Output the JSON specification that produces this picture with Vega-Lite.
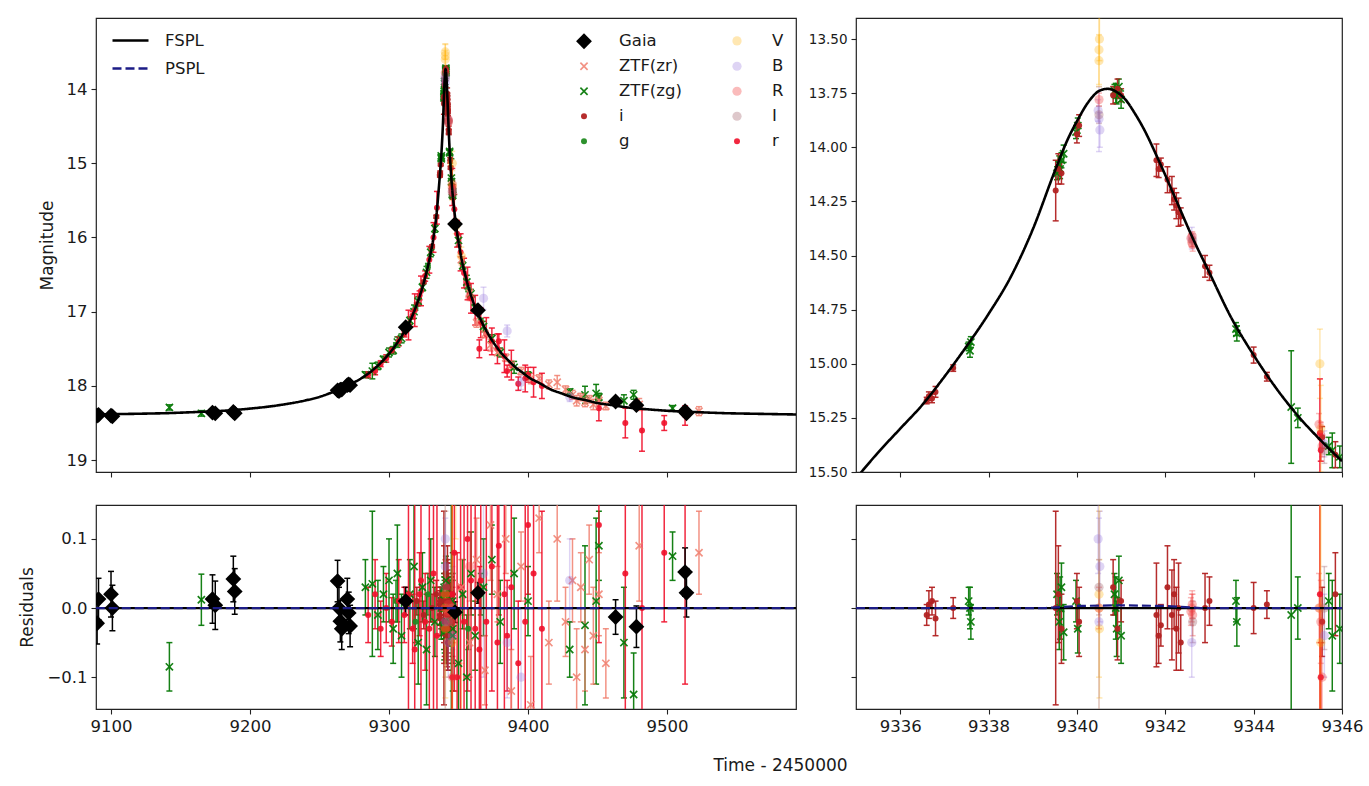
{
"$schema": "https://vega.github.io/schema/vega-lite/v6.json",
"background": "white",
"padding": {"left": 18, "top": 17, "right": 0, "bottom": 0},
"bounds": "flush",
"columns": 2,
"spacing": {"row": 33, "column": 60},
"config": {
  "font": "DejaVu Sans",
  "view": {"stroke": "#222222", "strokeWidth": 1.2},
  "axis": {"domain": false, "grid": false, "tickColor": "#222222", "tickSize": 5, "tickWidth": 1.1, "labelColor": "#1a1a1a", "labelFontSize": 16.5, "labelFont": "DejaVu Sans", "titleFont": "DejaVu Sans", "titleFontSize": 17, "titleFontWeight": "normal", "titleColor": "#1a1a1a", "labelPadding": 4, "labelFlush": false, "labelOverlap": false},
  "legend": {"labelFont": "DejaVu Sans", "labelFontSize": 16.5, "labelColor": "#1a1a1a", "padding": 0}
},
"resolve": {"legend": {"color": "independent", "shape": "independent", "opacity": "independent", "size": "independent", "stroke": "independent", "strokeDash": "independent"}},
"datasets": {
"obs": [
{"t":9142,"b":"ZTF(zg)","m":18.29,"e":0.035,"r":-0.085},
{"t":9165,"b":"ZTF(zg)","m":18.37,"e":0.037,"r":0.012},
{"t":9283,"b":"ZTF(zg)","m":17.85,"e":0.04,"r":0.03},
{"t":9288,"b":"ZTF(zg)","m":17.80,"e":0.105,"r":0.035},
{"t":9292,"b":"ZTF(zg)","m":17.73,"e":0.05,"r":-0.01},
{"t":9296,"b":"ZTF(zg)","m":17.64,"e":0.04,"r":0.02},
{"t":9300,"b":"ZTF(zg)","m":17.55,"e":0.06,"r":0.04},
{"t":9303,"b":"ZTF(zg)","m":17.52,"e":0.05,"r":-0.03},
{"t":9306,"b":"ZTF(zg)","m":17.41,"e":0.07,"r":0.05},
{"t":9309,"b":"ZTF(zg)","m":17.36,"e":0.06,"r":-0.04},
{"t":9315,"b":"ZTF(zg)","m":17.12,"e":0.05,"r":0.02},
{"t":9318,"b":"ZTF(zg)","m":17.0,"e":0.09,"r":0.06},
{"t":9321,"b":"ZTF(zg)","m":16.86,"e":0.06,"r":-0.05},
{"t":9324,"b":"ZTF(zg)","m":16.67,"e":0.05,"r":0.03},
{"t":9327,"b":"ZTF(zg)","m":16.47,"e":0.08,"r":-0.06},
{"t":9330,"b":"ZTF(zg)","m":16.2,"e":0.06,"r":0.04},
{"t":9333,"b":"ZTF(zg)","m":15.88,"e":0.05,"r":-0.02},
{"t":9337.55,"b":"ZTF(zg)","m":14.92,"e":0.02,"r":0.01},
{"t":9337.6,"b":"ZTF(zg)","m":14.9,"e":0.025,"r":-0.02},
{"t":9337.58,"b":"ZTF(zg)","m":14.94,"e":0.03,"r":0.0},
{"t":9339.55,"b":"ZTF(zg)","m":14.12,"e":0.03,"r":0.02},
{"t":9339.6,"b":"ZTF(zg)","m":14.08,"e":0.04,"r":-0.02},
{"t":9339.65,"b":"ZTF(zg)","m":14.06,"e":0.035,"r":0.03},
{"t":9339.7,"b":"ZTF(zg)","m":14.03,"e":0.04,"r":-0.035},
{"t":9339.62,"b":"ZTF(zg)","m":14.1,"e":0.045,"r":0.0},
{"t":9339.98,"b":"ZTF(zg)","m":13.93,"e":0.03,"r":0.01},
{"t":9340.02,"b":"ZTF(zg)","m":13.9,"e":0.035,"r":-0.03},
{"t":9340.85,"b":"ZTF(zg)","m":13.74,"e":0.03,"r":0.02},
{"t":9340.9,"b":"ZTF(zg)","m":13.76,"e":0.04,"r":-0.03},
{"t":9340.95,"b":"ZTF(zg)","m":13.72,"e":0.035,"r":0.04},
{"t":9341.0,"b":"ZTF(zg)","m":13.78,"e":0.04,"r":-0.04},
{"t":9340.88,"b":"ZTF(zg)","m":13.75,"e":0.045,"r":0.0},
{"t":9343.6,"b":"ZTF(zg)","m":14.84,"e":0.03,"r":0.01},
{"t":9343.62,"b":"ZTF(zg)","m":14.86,"e":0.035,"r":-0.02},
{"t":9344.85,"b":"ZTF(zg)","m":15.2,"e":0.26,"r":-0.01},
{"t":9345.0,"b":"ZTF(zg)","m":15.25,"e":0.045,"r":0.0},
{"t":9345.7,"b":"ZTF(zg)","m":15.38,"e":0.04,"r":0.01},
{"t":9345.78,"b":"ZTF(zg)","m":15.4,"e":0.08,"r":-0.04},
{"t":9345.95,"b":"ZTF(zg)","m":15.43,"e":0.05,"r":-0.03},
{"t":9350,"b":"ZTF(zg)","m":16.04,"e":0.08,"r":-0.08},
{"t":9353,"b":"ZTF(zg)","m":16.38,"e":0.05,"r":0.02},
{"t":9356,"b":"ZTF(zg)","m":16.6,"e":0.09,"r":-0.1},
{"t":9359,"b":"ZTF(zg)","m":16.76,"e":0.06,"r":0.05},
{"t":9362,"b":"ZTF(zg)","m":16.95,"e":0.05,"r":-0.04},
{"t":9368,"b":"ZTF(zg)","m":17.2,"e":0.07,"r":0.03},
{"t":9374,"b":"ZTF(zg)","m":17.36,"e":0.05,"r":0.07},
{"t":9380,"b":"ZTF(zg)","m":17.55,"e":0.06,"r":-0.02},
{"t":9390,"b":"ZTF(zg)","m":17.75,"e":0.08,"r":0.05},
{"t":9400,"b":"ZTF(zg)","m":17.86,"e":0.05,"r":0.01},
{"t":9430,"b":"ZTF(zg)","m":18.08,"e":0.04,"r":-0.06},
{"t":9441,"b":"ZTF(zg)","m":18.12,"e":0.115,"r":-0.025},
{"t":9449,"b":"ZTF(zg)","m":18.1,"e":0.12,"r":0.01},
{"t":9451,"b":"ZTF(zg)","m":18.15,"e":0.05,"r":0.09},
{"t":9469,"b":"ZTF(zg)","m":18.2,"e":0.08,"r":-0.05},
{"t":9476,"b":"ZTF(zg)","m":18.12,"e":0.06,"r":-0.125},
{"t":9504,"b":"ZTF(zg)","m":18.3,"e":0.035,"r":0.075},
{"t":9320,"b":"i","m":16.9,"e":0.02,"r":0.01},
{"t":9325,"b":"i","m":16.6,"e":0.02,"r":-0.01},
{"t":9331,"b":"i","m":16.12,"e":0.02,"r":0.0},
{"t":9334,"b":"i","m":15.72,"e":0.02,"r":0.02},
{"t":9336.6,"b":"i","m":15.17,"e":0.015,"r":-0.01},
{"t":9336.65,"b":"i","m":15.15,"e":0.02,"r":0.005},
{"t":9336.72,"b":"i","m":15.16,"e":0.02,"r":0.01},
{"t":9336.8,"b":"i","m":15.13,"e":0.025,"r":-0.015},
{"t":9337.2,"b":"i","m":15.02,"e":0.015,"r":0.0},
{"t":9339.52,"b":"i","m":14.2,"e":0.14,"r":0.0},
{"t":9339.58,"b":"i","m":14.1,"e":0.07,"r":0.02},
{"t":9339.65,"b":"i","m":14.12,"e":0.05,"r":-0.03},
{"t":9340.0,"b":"i","m":13.94,"e":0.04,"r":0.01},
{"t":9340.05,"b":"i","m":13.9,"e":0.05,"r":-0.02},
{"t":9340.82,"b":"i","m":13.76,"e":0.04,"r":0.03},
{"t":9340.92,"b":"i","m":13.73,"e":0.045,"r":-0.03},
{"t":9341.0,"b":"i","m":13.76,"e":0.03,"r":0.01},
{"t":9341.8,"b":"i","m":14.06,"e":0.075,"r":-0.01},
{"t":9341.85,"b":"i","m":14.1,"e":0.04,"r":-0.04},
{"t":9341.9,"b":"i","m":14.08,"e":0.03,"r":-0.025},
{"t":9342.05,"b":"i","m":14.15,"e":0.06,"r":0.03},
{"t":9342.15,"b":"i","m":14.2,"e":0.065,"r":-0.01},
{"t":9342.2,"b":"i","m":14.24,"e":0.05,"r":0.02},
{"t":9342.25,"b":"i","m":14.27,"e":0.06,"r":-0.03},
{"t":9342.3,"b":"i","m":14.3,"e":0.065,"r":0.0},
{"t":9342.35,"b":"i","m":14.32,"e":0.04,"r":-0.05},
{"t":9342.9,"b":"i","m":14.55,"e":0.05,"r":0.0},
{"t":9343.0,"b":"i","m":14.58,"e":0.035,"r":0.01},
{"t":9344.0,"b":"i","m":14.96,"e":0.037,"r":0.0},
{"t":9344.3,"b":"i","m":15.06,"e":0.02,"r":0.005},
{"t":9345.55,"b":"i","m":15.34,"e":0.05,"r":-0.02},
{"t":9345.85,"b":"i","m":15.42,"e":0.06,"r":0.02},
{"t":9305,"b":"g","m":17.45,"e":0.03,"r":0.01},
{"t":9319,"b":"g","m":16.95,"e":0.03,"r":-0.02},
{"t":9328,"b":"g","m":16.38,"e":0.03,"r":0.02},
{"t":9357,"b":"g","m":16.7,"e":0.03,"r":-0.03},
{"t":9366,"b":"g","m":17.12,"e":0.03,"r":0.02},
{"t":9285,"b":"r","m":17.85,"e":0.04,"r":-0.01},
{"t":9290,"b":"r","m":17.8,"e":0.05,"r":0.02},
{"t":9294,"b":"r","m":17.7,"e":0.04,"r":-0.03},
{"t":9298,"b":"r","m":17.63,"e":0.05,"r":0.0},
{"t":9302,"b":"r","m":17.52,"e":0.035,"r":-0.02},
{"t":9307,"b":"r","m":17.4,"e":0.06,"r":0.01},
{"t":9311,"b":"r","m":17.3,"e":0.04,"r":-0.01},
{"t":9314,"b":"r","m":17.18,"e":0.2,"r":0.02},
{"t":9317,"b":"r","m":17.05,"e":0.05,"r":-0.03},
{"t":9318.5,"b":"r","m":16.98,"e":0.22,"r":-0.06},
{"t":9322,"b":"r","m":16.78,"e":0.06,"r":0.02},
{"t":9323,"b":"r","m":16.72,"e":0.2,"r":0.04},
{"t":9326,"b":"r","m":16.52,"e":0.07,"r":-0.02},
{"t":9329,"b":"r","m":16.3,"e":0.18,"r":-0.03},
{"t":9332,"b":"r","m":16.0,"e":0.2,"r":0.05},
{"t":9334.5,"b":"r","m":15.6,"e":0.22,"r":-0.04},
{"t":9347,"b":"r","m":15.62,"e":0.2,"r":0.08},
{"t":9349,"b":"r","m":15.95,"e":0.18,"r":-0.1},
{"t":9351.5,"b":"r","m":16.2,"e":0.25,"r":0.03},
{"t":9354,"b":"r","m":16.48,"e":0.2,"r":-0.02},
{"t":9356.5,"b":"r","m":16.62,"e":0.22,"r":0.1},
{"t":9359,"b":"r","m":16.82,"e":0.2,"r":0.04},
{"t":9362,"b":"r","m":16.98,"e":0.2,"r":-0.03},
{"t":9365,"b":"r","m":17.5,"e":0.12,"r":-0.06},
{"t":9366,"b":"r","m":17.15,"e":0.2,"r":0.04},
{"t":9370,"b":"r","m":17.3,"e":0.22,"r":-0.02},
{"t":9374,"b":"r","m":17.4,"e":0.18,"r":0.06},
{"t":9378,"b":"r","m":17.5,"e":0.2,"r":-0.05},
{"t":9379,"b":"r","m":17.4,"e":0.1,"r":0.09},
{"t":9383,"b":"r","m":17.6,"e":0.22,"r":0.02},
{"t":9385,"b":"r","m":17.8,"e":0.08,"r":-0.04},
{"t":9388,"b":"r","m":17.72,"e":0.2,"r":0.03},
{"t":9393,"b":"r","m":17.97,"e":0.09,"r":-0.08},
{"t":9398,"b":"r","m":17.9,"e":0.18,"r":-0.02},
{"t":9400,"b":"r","m":17.85,"e":0.1,"r":0.12},
{"t":9404,"b":"r","m":17.95,"e":0.2,"r":0.05},
{"t":9410,"b":"r","m":18.0,"e":0.17,"r":-0.03},
{"t":9451,"b":"r","m":18.3,"e":0.17,"r":0.12},
{"t":9470,"b":"r","m":18.5,"e":0.2,"r":0.05},
{"t":9482,"b":"r","m":18.6,"e":0.28,"r":0.0},
{"t":9498,"b":"r","m":18.5,"e":0.1,"r":0.08},
{"t":9513,"b":"r","m":18.4,"e":0.13,"r":0.02},
{"t":9345.5,"b":"r","m":15.32,"e":0.25,"r":0.02},
{"t":9345.52,"b":"r","m":15.4,"e":0.05,"r":-0.1},
{"t":9352,"b":"ZTF(zr)","m":16.3,"e":0.04,"r":0.03},
{"t":9358,"b":"ZTF(zr)","m":16.75,"e":0.05,"r":-0.05},
{"t":9363,"b":"ZTF(zr)","m":17.15,"e":0.06,"r":0.07},
{"t":9369,"b":"ZTF(zr)","m":17.3,"e":0.05,"r":-0.09},
{"t":9373,"b":"ZTF(zr)","m":17.45,"e":0.08,"r":0.12},
{"t":9378,"b":"ZTF(zr)","m":17.55,"e":0.04,"r":0.02},
{"t":9384,"b":"ZTF(zr)","m":17.62,"e":0.05,"r":0.1},
{"t":9388,"b":"ZTF(zr)","m":17.72,"e":0.06,"r":-0.12},
{"t":9395,"b":"ZTF(zr)","m":17.8,"e":0.05,"r":0.06},
{"t":9402,"b":"ZTF(zr)","m":17.9,"e":0.07,"r":-0.14},
{"t":9408,"b":"ZTF(zr)","m":17.9,"e":0.05,"r":0.13},
{"t":9415,"b":"ZTF(zr)","m":17.98,"e":0.06,"r":-0.05},
{"t":9421,"b":"ZTF(zr)","m":17.95,"e":0.09,"r":0.1},
{"t":9427,"b":"ZTF(zr)","m":18.05,"e":0.05,"r":-0.02},
{"t":9432,"b":"ZTF(zr)","m":18.12,"e":0.06,"r":0.04},
{"t":9435,"b":"ZTF(zr)","m":18.2,"e":0.07,"r":-0.1},
{"t":9438,"b":"ZTF(zr)","m":18.15,"e":0.05,"r":0.03},
{"t":9441,"b":"ZTF(zr)","m":18.22,"e":0.06,"r":-0.06},
{"t":9444,"b":"ZTF(zr)","m":18.18,"e":0.05,"r":0.07},
{"t":9447,"b":"ZTF(zr)","m":18.25,"e":0.07,"r":-0.04},
{"t":9451,"b":"ZTF(zr)","m":18.2,"e":0.06,"r":0.02},
{"t":9456,"b":"ZTF(zr)","m":18.27,"e":0.05,"r":-0.08},
{"t":9480,"b":"ZTF(zr)","m":18.25,"e":0.08,"r":0.09},
{"t":9523,"b":"ZTF(zr)","m":18.34,"e":0.06,"r":0.08},
{"t":9340.5,"b":"V","m":13.55,"e":0.16,"r":0.0},
{"t":9340.5,"b":"V","m":13.6,"e":0.12,"r":0.02},
{"t":9340.51,"b":"V","m":13.5,"e":0.1,"r":-0.03},
{"t":9345.5,"b":"V","m":15.0,"e":0.16,"r":0.0},
{"t":9345.52,"b":"V","m":15.3,"e":0.2,"r":-0.05},
{"t":9348,"b":"V","m":15.85,"e":0.1,"r":0.2},
{"t":9352,"b":"V","m":16.25,"e":0.12,"r":-0.2},
{"t":9340.48,"b":"B","m":13.83,"e":0.05,"r":0.1},
{"t":9340.52,"b":"B","m":13.92,"e":0.08,"r":0.06},
{"t":9340.5,"b":"B","m":13.87,"e":0.15,"r":-0.02},
{"t":9342.6,"b":"B","m":14.42,"e":0.05,"r":-0.05},
{"t":9345.6,"b":"B","m":15.37,"e":0.06,"r":-0.04},
{"t":9368,"b":"B","m":16.82,"e":0.15,"r":0.05},
{"t":9385,"b":"B","m":17.26,"e":0.08,"r":-0.05},
{"t":9395,"b":"B","m":17.95,"e":0.1,"r":-0.1},
{"t":9430,"b":"B","m":18.15,"e":0.06,"r":0.04},
{"t":9340.5,"b":"R","m":13.78,"e":0.03,"r":0.0},
{"t":9342.58,"b":"R","m":14.42,"e":0.02,"r":-0.005},
{"t":9342.6,"b":"R","m":14.44,"e":0.02,"r":0.0},
{"t":9342.62,"b":"R","m":14.45,"e":0.03,"r":-0.01},
{"t":9342.61,"b":"R","m":14.41,"e":0.02,"r":0.005},
{"t":9345.48,"b":"R","m":15.28,"e":0.05,"r":0.0},
{"t":9345.52,"b":"R","m":15.33,"e":0.06,"r":-0.02},
{"t":9345.55,"b":"R","m":15.38,"e":0.05,"r":-0.1},
{"t":9358,"b":"R","m":16.8,"e":0.05,"r":0.06},
{"t":9340.5,"b":"I","m":13.85,"e":0.04,"r":0.03},
{"t":9342.62,"b":"I","m":14.43,"e":0.03,"r":-0.02},
{"t":9345.6,"b":"I","m":15.4,"e":0.06,"r":0.0},
{"t":9090,"b":"Gaia","m":18.40,"e":0.03,"r":-0.022},
{"t":9091,"b":"Gaia","m":18.39,"e":0.03,"r":0.013},
{"t":9100,"b":"Gaia","m":18.40,"e":0.033,"r":0.02},
{"t":9101,"b":"Gaia","m":18.41,"e":0.033,"r":0.0},
{"t":9173,"b":"Gaia","m":18.36,"e":0.035,"r":0.013},
{"t":9175,"b":"Gaia","m":18.37,"e":0.035,"r":0.004},
{"t":9188,"b":"Gaia","m":18.35,"e":0.033,"r":0.042},
{"t":9189,"b":"Gaia","m":18.37,"e":0.033,"r":0.024},
{"t":9263,"b":"Gaia","m":18.06,"e":0.03,"r":0.039},
{"t":9264,"b":"Gaia","m":18.07,"e":0.03,"r":0.0},
{"t":9265,"b":"Gaia","m":18.05,"e":0.03,"r":-0.019},
{"t":9266,"b":"Gaia","m":18.05,"e":0.03,"r":-0.03},
{"t":9270,"b":"Gaia","m":17.99,"e":0.03,"r":0.013},
{"t":9271,"b":"Gaia","m":17.98,"e":0.03,"r":-0.007},
{"t":9272,"b":"Gaia","m":17.99,"e":0.03,"r":-0.026},
{"t":9312,"b":"Gaia","m":17.21,"e":0.02,"r":0.01},
{"t":9347.5,"b":"Gaia","m":15.82,"e":0.015,"r":-0.006},
{"t":9364,"b":"Gaia","m":16.98,"e":0.015,"r":0.022},
{"t":9463,"b":"Gaia","m":18.21,"e":0.025,"r":-0.013},
{"t":9478,"b":"Gaia","m":18.26,"e":0.03,"r":-0.027},
{"t":9513,"b":"Gaia","m":18.34,"e":0.035,"r":0.052},
{"t":9514,"b":"Gaia","m":18.37,"e":0.035,"r":0.022}
],
"fl": [
{"t":9089,"m":18.384,"model":"FSPL"},{"t":9120,"m":18.375,"model":"FSPL"},{"t":9140,"m":18.367,"model":"FSPL"},{"t":9160,"m":18.353,"model":"FSPL"},{"t":9180,"m":18.336,"model":"FSPL"},{"t":9200,"m":18.306,"model":"FSPL"},{"t":9220,"m":18.262,"model":"FSPL"},{"t":9240,"m":18.195,"model":"FSPL"},{"t":9250,"m":18.148,"model":"FSPL"},{"t":9258,"m":18.095,"model":"FSPL"},{"t":9265,"m":18.047,"model":"FSPL"},{"t":9272,"m":17.98,"model":"FSPL"},{"t":9280,"m":17.898,"model":"FSPL"},{"t":9290,"m":17.76,"model":"FSPL"},{"t":9300,"m":17.567,"model":"FSPL"},{"t":9310,"m":17.30,"model":"FSPL"},{"t":9315,"m":17.13,"model":"FSPL"},{"t":9320,"m":16.90,"model":"FSPL"},{"t":9325,"m":16.61,"model":"FSPL"},{"t":9330,"m":16.21,"model":"FSPL"},{"t":9332,"m":16.0,"model":"FSPL"},{"t":9334,"m":15.72,"model":"FSPL"},{"t":9336,"m":15.30,"model":"FSPL"},{"t":9337,"m":15.06,"model":"FSPL"},{"t":9338,"m":14.77,"model":"FSPL"},{"t":9339,"m":14.38,"model":"FSPL"},{"t":9339.5,"m":14.11,"model":"FSPL"},{"t":9340,"m":13.88,"model":"FSPL"},{"t":9340.4,"m":13.76,"model":"FSPL"},{"t":9340.7,"m":13.73,"model":"FSPL"},{"t":9341.1,"m":13.78,"model":"FSPL"},{"t":9341.5,"m":13.91,"model":"FSPL"},{"t":9342,"m":14.12,"model":"FSPL"},{"t":9343,"m":14.58,"model":"FSPL"},{"t":9344,"m":14.96,"model":"FSPL"},{"t":9345,"m":15.24,"model":"FSPL"},{"t":9347,"m":15.64,"model":"FSPL"},{"t":9349,"m":15.94,"model":"FSPL"},{"t":9351,"m":16.17,"model":"FSPL"},{"t":9356,"m":16.59,"model":"FSPL"},{"t":9361,"m":16.89,"model":"FSPL"},{"t":9366,"m":17.11,"model":"FSPL"},{"t":9371,"m":17.29,"model":"FSPL"},{"t":9381,"m":17.56,"model":"FSPL"},{"t":9386,"m":17.66,"model":"FSPL"},{"t":9391,"m":17.75,"model":"FSPL"},{"t":9396,"m":17.82,"model":"FSPL"},{"t":9401,"m":17.89,"model":"FSPL"},{"t":9408,"m":17.96,"model":"FSPL"},{"t":9416,"m":18.045,"model":"FSPL"},{"t":9424,"m":18.10,"model":"FSPL"},{"t":9431,"m":18.147,"model":"FSPL"},{"t":9441,"m":18.19,"model":"FSPL"},{"t":9451,"m":18.234,"model":"FSPL"},{"t":9461,"m":18.26,"model":"FSPL"},{"t":9471,"m":18.289,"model":"FSPL"},{"t":9486,"m":18.315,"model":"FSPL"},{"t":9501,"m":18.336,"model":"FSPL"},{"t":9521,"m":18.353,"model":"FSPL"},{"t":9541,"m":18.367,"model":"FSPL"},{"t":9565,"m":18.376,"model":"FSPL"},{"t":9593,"m":18.385,"model":"FSPL"}
],
"fr": [
{"t":9335.0,"m":15.53,"model":"FSPL"},{"t":9335.5,"m":15.41,"model":"FSPL"},{"t":9336.0,"m":15.30,"model":"FSPL"},{"t":9336.5,"m":15.19,"model":"FSPL"},{"t":9337.0,"m":15.06,"model":"FSPL"},{"t":9337.5,"m":14.92,"model":"FSPL"},{"t":9338.0,"m":14.77,"model":"FSPL"},{"t":9338.5,"m":14.60,"model":"FSPL"},{"t":9339.0,"m":14.38,"model":"FSPL"},{"t":9339.5,"m":14.11,"model":"FSPL"},{"t":9339.8,"m":13.96,"model":"FSPL"},{"t":9340.0,"m":13.88,"model":"FSPL"},{"t":9340.3,"m":13.78,"model":"FSPL"},{"t":9340.5,"m":13.74,"model":"FSPL"},{"t":9340.7,"m":13.73,"model":"FSPL"},{"t":9340.9,"m":13.745,"model":"FSPL"},{"t":9341.1,"m":13.78,"model":"FSPL"},{"t":9341.3,"m":13.84,"model":"FSPL"},{"t":9341.5,"m":13.91,"model":"FSPL"},{"t":9341.85,"m":14.06,"model":"FSPL"},{"t":9342.3,"m":14.27,"model":"FSPL"},{"t":9342.6,"m":14.41,"model":"FSPL"},{"t":9343.0,"m":14.58,"model":"FSPL"},{"t":9343.5,"m":14.79,"model":"FSPL"},{"t":9344.0,"m":14.96,"model":"FSPL"},{"t":9344.5,"m":15.11,"model":"FSPL"},{"t":9345.0,"m":15.24,"model":"FSPL"},{"t":9345.5,"m":15.35,"model":"FSPL"},{"t":9346.0,"m":15.45,"model":"FSPL"}
],
"rl": [
{"t":9089,"r":0,"model":"FSPL"},{"t":9593,"r":0,"model":"FSPL"},{"t":9089,"r":0,"model":"PSPL"},{"t":9593,"r":0,"model":"PSPL"}
],
"rr": [
{"t":9335,"r":0,"model":"FSPL"},{"t":9346,"r":0,"model":"FSPL"},
{"t":9335,"r":0,"model":"PSPL"},{"t":9339.3,"r":0,"model":"PSPL"},{"t":9340,"r":0.003,"model":"PSPL"},{"t":9341,"r":0.004,"model":"PSPL"},{"t":9342,"r":0.003,"model":"PSPL"},{"t":9342.8,"r":0,"model":"PSPL"},{"t":9346,"r":0,"model":"PSPL"}
]
},
"concat": [
{
 "width": 700, "height": 454,
 "resolve": {"legend": {"color": "independent", "opacity": "independent", "shape": "independent", "size": "independent"}},
 "encoding": {
  "x": {"field": "t", "type": "quantitative", "scale": {"domain": [9089.2, 9592.8], "nice": false, "zero": false}, "axis": {"values": [9100, 9200, 9300, 9400, 9500], "labels": false, "title": null}},
  "y": {"field": "m", "type": "quantitative", "scale": {"domain": [13.043, 19.16], "reverse": true, "nice": false, "zero": false}, "axis": {"values": [14, 15, 16, 17, 18, 19], "format": "d", "title": "Magnitude", "titlePadding": 10}}
 },
 "layer": [
  {"data": {"name": "obs"}, "mark": {"type": "errorbar", "ticks": {"size": 6}, "thickness": 1.5, "clip": true},
   "encoding": {"yError": {"field": "e"},
    "color": {"field": "b", "type": "nominal", "scale": {"domain": ["Gaia","ZTF(zr)","ZTF(zg)","i","g","V","B","R","I","r"], "range": ["#000000","#f07f6f","#0a7a0a","#b22222","#228b22","#ffb000","#9370db","#f03c3c","#a0606a","#f0102a"]}, "legend": null},
    "opacity": {"field": "b", "type": "nominal", "scale": {"type": "ordinal", "domain": ["Gaia","ZTF(zr)","ZTF(zg)","i","g","V","B","R","I","r"], "range": [1,0.85,0.95,0.95,0.95,0.3,0.3,0.35,0.35,0.9]}, "legend": null}}},
  {"data": {"name": "obs"}, "mark": {"type": "point", "filled": true, "clip": true},
   "encoding": {
    "color": {"field": "b", "type": "nominal", "scale": {"domain": ["Gaia","ZTF(zr)","ZTF(zg)","i","g","V","B","R","I","r"], "range": ["#000000","#f07f6f","#0a7a0a","#b22222","#228b22","#ffb000","#9370db","#f03c3c","#a0606a","#f0102a"]}, "legend": {"orient": "none", "legendX": 479, "legendY": 14, "columns": 2, "columnPadding": 46, "rowPadding": 8, "labelOffset": 26, "title": null}},
    "shape": {"field": "b", "type": "nominal", "scale": {"domain": ["Gaia","ZTF(zr)","ZTF(zg)","i","g","V","B","R","I","r"], "range": ["diamond","M-1,-0.72L-0.72,-1L0,-0.28L0.72,-1L1,-0.72L0.28,0L1,0.72L0.72,1L0,0.28L-0.72,1L-1,0.72L-0.28,0Z","M-1,-0.72L-0.72,-1L0,-0.28L0.72,-1L1,-0.72L0.28,0L1,0.72L0.72,1L0,0.28L-0.72,1L-1,0.72L-0.28,0Z","circle","circle","circle","circle","circle","circle","circle"]}, "legend": {"orient": "none", "legendX": 479, "legendY": 14, "columns": 2, "columnPadding": 46, "rowPadding": 8, "labelOffset": 26, "title": null}},
    "opacity": {"field": "b", "type": "nominal", "scale": {"type": "ordinal", "domain": ["Gaia","ZTF(zr)","ZTF(zg)","i","g","V","B","R","I","r"], "range": [1,0.85,0.95,0.95,0.95,0.3,0.3,0.35,0.35,0.9]}, "legend": {"orient": "none", "legendX": 479, "legendY": 14, "columns": 2, "columnPadding": 46, "rowPadding": 8, "labelOffset": 26, "title": null}},
    "size": {"field": "b", "type": "nominal", "scale": {"type": "ordinal", "domain": ["Gaia","ZTF(zr)","ZTF(zg)","i","g","V","B","R","I","r"], "range": [250,70,70,36,36,85,85,85,85,36]}, "legend": {"orient": "none", "legendX": 479, "legendY": 14, "columns": 2, "columnPadding": 46, "rowPadding": 8, "labelOffset": 26, "title": null}}
   }},
  {"data": {"name": "fl"}, "mark": {"type": "line", "strokeWidth": 2.6, "clip": true, "interpolate": "monotone"},
   "encoding": {
    "stroke": {"field": "model", "type": "nominal", "scale": {"domain": ["FSPL","PSPL"], "range": ["#000000","#1c1c86"]}, "legend": {"orient": "none", "legendX": 15, "legendY": 3, "rowPadding": -5, "labelOffset": 15, "title": null, "symbolType": "stroke", "symbolSize": 1296, "symbolStrokeWidth": 2.6}},
    "strokeDash": {"field": "model", "type": "nominal", "scale": {"domain": ["FSPL","PSPL"], "range": [[1,0],[9,4]]}, "legend": {"orient": "none", "legendX": 15, "legendY": 3, "rowPadding": -5, "labelOffset": 15, "title": null, "symbolType": "stroke", "symbolSize": 1296, "symbolStrokeWidth": 2.6}}
   }}
 ]
},
{
 "width": 486, "height": 454,
 "encoding": {
  "x": {"field": "t", "type": "quantitative", "scale": {"domain": [9335, 9346], "nice": false, "zero": false}, "axis": {"values": [9336, 9338, 9340, 9342, 9344, 9346], "labels": false, "title": null}},
  "y": {"field": "m", "type": "quantitative", "scale": {"domain": [13.403, 15.5], "reverse": true, "nice": false, "zero": false}, "axis": {"values": [13.5, 13.75, 14.0, 14.25, 14.5, 14.75, 15.0, 15.25, 15.5], "format": ".2f", "title": null, "labelFontSize": 13.5}}
 },
 "layer": [
  {"data": {"name": "obs"}, "mark": {"type": "errorbar", "ticks": {"size": 6}, "thickness": 1.5, "clip": true},
   "encoding": {"yError": {"field": "e"},
    "color": {"field": "b", "type": "nominal", "scale": {"domain": ["Gaia","ZTF(zr)","ZTF(zg)","i","g","V","B","R","I","r"], "range": ["#000000","#f07f6f","#0a7a0a","#b22222","#228b22","#ffb000","#9370db","#f03c3c","#a0606a","#f0102a"]}, "legend": null},
    "opacity": {"field": "b", "type": "nominal", "scale": {"type": "ordinal", "domain": ["Gaia","ZTF(zr)","ZTF(zg)","i","g","V","B","R","I","r"], "range": [1,0.85,0.95,0.95,0.95,0.3,0.3,0.35,0.35,0.9]}, "legend": null}}},
  {"data": {"name": "obs"}, "mark": {"type": "point", "filled": true, "clip": true},
   "encoding": {
    "color": {"field": "b", "type": "nominal", "scale": {"domain": ["Gaia","ZTF(zr)","ZTF(zg)","i","g","V","B","R","I","r"], "range": ["#000000","#f07f6f","#0a7a0a","#b22222","#228b22","#ffb000","#9370db","#f03c3c","#a0606a","#f0102a"]}, "legend": null},
    "shape": {"field": "b", "type": "nominal", "scale": {"domain": ["Gaia","ZTF(zr)","ZTF(zg)","i","g","V","B","R","I","r"], "range": ["diamond","M-1,-0.72L-0.72,-1L0,-0.28L0.72,-1L1,-0.72L0.28,0L1,0.72L0.72,1L0,0.28L-0.72,1L-1,0.72L-0.28,0Z","M-1,-0.72L-0.72,-1L0,-0.28L0.72,-1L1,-0.72L0.28,0L1,0.72L0.72,1L0,0.28L-0.72,1L-1,0.72L-0.28,0Z","circle","circle","circle","circle","circle","circle","circle"]}, "legend": null},
    "opacity": {"field": "b", "type": "nominal", "scale": {"type": "ordinal", "domain": ["Gaia","ZTF(zr)","ZTF(zg)","i","g","V","B","R","I","r"], "range": [1,0.85,0.95,0.95,0.95,0.3,0.3,0.35,0.35,0.9]}, "legend": null},
    "size": {"field": "b", "type": "nominal", "scale": {"type": "ordinal", "domain": ["Gaia","ZTF(zr)","ZTF(zg)","i","g","V","B","R","I","r"], "range": [250,70,70,36,36,85,85,85,85,36]}, "legend": null}
   }},
  {"data": {"name": "fr"}, "mark": {"type": "line", "strokeWidth": 2.6, "clip": true, "interpolate": "monotone"},
   "encoding": {
    "stroke": {"field": "model", "type": "nominal", "scale": {"domain": ["FSPL","PSPL"], "range": ["#000000","#1c1c86"]}, "legend": null},
    "strokeDash": {"field": "model", "type": "nominal", "scale": {"domain": ["FSPL","PSPL"], "range": [[1,0],[9,4]]}, "legend": null}
   }}
 ]
},
{
 "width": 700, "height": 204,
 "encoding": {
  "x": {"field": "t", "type": "quantitative", "scale": {"domain": [9089.2, 9592.8], "nice": false, "zero": false}, "axis": {"values": [9100, 9200, 9300, 9400, 9500], "format": "d", "title": "Time - 2450000", "titleX": 684, "titleY": 48}},
  "y": {"field": "r", "type": "quantitative", "scale": {"domain": [-0.146, 0.149], "nice": false, "zero": false}, "axis": {"values": [-0.1, 0, 0.1], "format": ".1f", "title": "Residuals", "titlePadding": 10}}
 },
 "layer": [
  {"data": {"name": "obs"}, "mark": {"type": "errorbar", "ticks": {"size": 6}, "thickness": 1.5, "clip": true},
   "encoding": {"yError": {"field": "e"},
    "color": {"field": "b", "type": "nominal", "scale": {"domain": ["Gaia","ZTF(zr)","ZTF(zg)","i","g","V","B","R","I","r"], "range": ["#000000","#f07f6f","#0a7a0a","#b22222","#228b22","#ffb000","#9370db","#f03c3c","#a0606a","#f0102a"]}, "legend": null},
    "opacity": {"field": "b", "type": "nominal", "scale": {"type": "ordinal", "domain": ["Gaia","ZTF(zr)","ZTF(zg)","i","g","V","B","R","I","r"], "range": [1,0.85,0.95,0.95,0.95,0.3,0.3,0.35,0.35,0.9]}, "legend": null}}},
  {"data": {"name": "obs"}, "mark": {"type": "point", "filled": true, "clip": true},
   "encoding": {
    "color": {"field": "b", "type": "nominal", "scale": {"domain": ["Gaia","ZTF(zr)","ZTF(zg)","i","g","V","B","R","I","r"], "range": ["#000000","#f07f6f","#0a7a0a","#b22222","#228b22","#ffb000","#9370db","#f03c3c","#a0606a","#f0102a"]}, "legend": null},
    "shape": {"field": "b", "type": "nominal", "scale": {"domain": ["Gaia","ZTF(zr)","ZTF(zg)","i","g","V","B","R","I","r"], "range": ["diamond","M-1,-0.72L-0.72,-1L0,-0.28L0.72,-1L1,-0.72L0.28,0L1,0.72L0.72,1L0,0.28L-0.72,1L-1,0.72L-0.28,0Z","M-1,-0.72L-0.72,-1L0,-0.28L0.72,-1L1,-0.72L0.28,0L1,0.72L0.72,1L0,0.28L-0.72,1L-1,0.72L-0.28,0Z","circle","circle","circle","circle","circle","circle","circle"]}, "legend": null},
    "opacity": {"field": "b", "type": "nominal", "scale": {"type": "ordinal", "domain": ["Gaia","ZTF(zr)","ZTF(zg)","i","g","V","B","R","I","r"], "range": [1,0.85,0.95,0.95,0.95,0.3,0.3,0.35,0.35,0.9]}, "legend": null},
    "size": {"field": "b", "type": "nominal", "scale": {"type": "ordinal", "domain": ["Gaia","ZTF(zr)","ZTF(zg)","i","g","V","B","R","I","r"], "range": [250,70,70,36,36,85,85,85,85,36]}, "legend": null}
   }},
  {"data": {"name": "rl"}, "mark": {"type": "line", "strokeWidth": 2.2, "clip": true},
   "encoding": {
    "stroke": {"field": "model", "type": "nominal", "scale": {"domain": ["FSPL","PSPL"], "range": ["#000000","#1c1c86"]}, "legend": null},
    "strokeDash": {"field": "model", "type": "nominal", "scale": {"domain": ["FSPL","PSPL"], "range": [[1,0],[9,4]]}, "legend": null}
   }}
 ]
},
{
 "width": 486, "height": 204,
 "encoding": {
  "x": {"field": "t", "type": "quantitative", "scale": {"domain": [9335, 9346], "nice": false, "zero": false}, "axis": {"values": [9336, 9338, 9340, 9342, 9344, 9346], "format": "d", "title": null}},
  "y": {"field": "r", "type": "quantitative", "scale": {"domain": [-0.146, 0.149], "nice": false, "zero": false}, "axis": {"values": [-0.1, 0, 0.1], "labels": false, "title": null}}
 },
 "layer": [
  {"data": {"name": "obs"}, "mark": {"type": "errorbar", "ticks": {"size": 6}, "thickness": 1.5, "clip": true},
   "encoding": {"yError": {"field": "e"},
    "color": {"field": "b", "type": "nominal", "scale": {"domain": ["Gaia","ZTF(zr)","ZTF(zg)","i","g","V","B","R","I","r"], "range": ["#000000","#f07f6f","#0a7a0a","#b22222","#228b22","#ffb000","#9370db","#f03c3c","#a0606a","#f0102a"]}, "legend": null},
    "opacity": {"field": "b", "type": "nominal", "scale": {"type": "ordinal", "domain": ["Gaia","ZTF(zr)","ZTF(zg)","i","g","V","B","R","I","r"], "range": [1,0.85,0.95,0.95,0.95,0.3,0.3,0.35,0.35,0.9]}, "legend": null}}},
  {"data": {"name": "obs"}, "mark": {"type": "point", "filled": true, "clip": true},
   "encoding": {
    "color": {"field": "b", "type": "nominal", "scale": {"domain": ["Gaia","ZTF(zr)","ZTF(zg)","i","g","V","B","R","I","r"], "range": ["#000000","#f07f6f","#0a7a0a","#b22222","#228b22","#ffb000","#9370db","#f03c3c","#a0606a","#f0102a"]}, "legend": null},
    "shape": {"field": "b", "type": "nominal", "scale": {"domain": ["Gaia","ZTF(zr)","ZTF(zg)","i","g","V","B","R","I","r"], "range": ["diamond","M-1,-0.72L-0.72,-1L0,-0.28L0.72,-1L1,-0.72L0.28,0L1,0.72L0.72,1L0,0.28L-0.72,1L-1,0.72L-0.28,0Z","M-1,-0.72L-0.72,-1L0,-0.28L0.72,-1L1,-0.72L0.28,0L1,0.72L0.72,1L0,0.28L-0.72,1L-1,0.72L-0.28,0Z","circle","circle","circle","circle","circle","circle","circle"]}, "legend": null},
    "opacity": {"field": "b", "type": "nominal", "scale": {"type": "ordinal", "domain": ["Gaia","ZTF(zr)","ZTF(zg)","i","g","V","B","R","I","r"], "range": [1,0.85,0.95,0.95,0.95,0.3,0.3,0.35,0.35,0.9]}, "legend": null},
    "size": {"field": "b", "type": "nominal", "scale": {"type": "ordinal", "domain": ["Gaia","ZTF(zr)","ZTF(zg)","i","g","V","B","R","I","r"], "range": [250,70,70,36,36,85,85,85,85,36]}, "legend": null}
   }},
  {"data": {"name": "rr"}, "mark": {"type": "line", "strokeWidth": 2.2, "clip": true},
   "encoding": {
    "stroke": {"field": "model", "type": "nominal", "scale": {"domain": ["FSPL","PSPL"], "range": ["#000000","#1c1c86"]}, "legend": null},
    "strokeDash": {"field": "model", "type": "nominal", "scale": {"domain": ["FSPL","PSPL"], "range": [[1,0],[9,4]]}, "legend": null}
   }}
 ]
}
]
}
